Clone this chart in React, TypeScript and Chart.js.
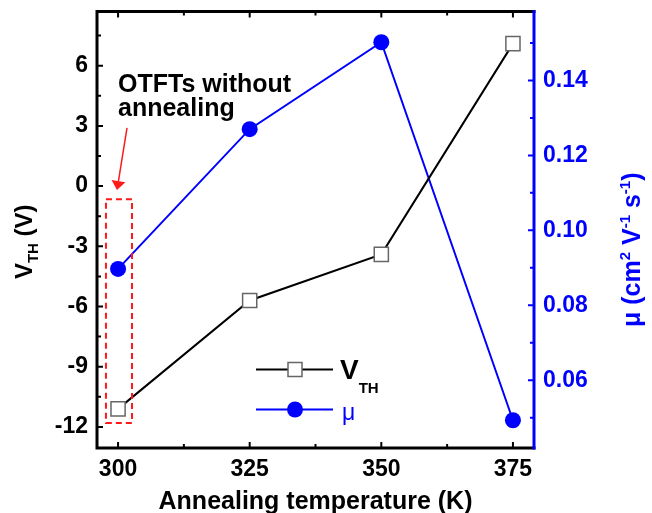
import React, { useEffect, useRef } from 'react';
import { Chart, registerables } from 'chart.js';

Chart.register(...registerables);

// ---- data ----
const temperatures = [300, 325, 350, 375];
const vthValues = [-11.1, -5.7, -3.4, 7.1];
const muValues = [0.0897, 0.127, 0.1502, 0.0493];

// ---- tick labels ----
const xTicks = [300, 325, 350, 375];
const xMinorTicks = [312.5, 337.5, 362.5];
const vthTicks = [-12, -9, -6, -3, 0, 3, 6];
const vthMinorTicks = [-10.5, -7.5, -4.5, -1.5, 1.5, 4.5, 7.5];
const muTicks = [0.06, 0.08, 0.1, 0.12, 0.14];
const muMinorTicks = [0.05, 0.07, 0.09, 0.11, 0.13, 0.15];

const FONT = "'Liberation Sans', Arial, Helvetica, sans-serif";
const BLUE = '#0000ff';
const RED = '#ff1a1a';

type Run = { text: string; size: number; weight?: string; dy?: number };

function runsWidth(ctx: CanvasRenderingContext2D, runs: Run[]) {
  let w = 0;
  for (const r of runs) {
    ctx.font = `${r.weight ?? 'bold'} ${r.size}px ${FONT}`;
    w += ctx.measureText(r.text).width;
  }
  return w;
}

function drawRuns(ctx: CanvasRenderingContext2D, runs: Run[], x: number, y: number) {
  let cx = x;
  ctx.textBaseline = 'alphabetic';
  ctx.textAlign = 'left';
  for (const r of runs) {
    ctx.font = `${r.weight ?? 'bold'} ${r.size}px ${FONT}`;
    ctx.fillText(r.text, cx, y + (r.dy ?? 0));
    cx += ctx.measureText(r.text).width;
  }
}

const decorPlugin = {
  id: 'decor',
  afterDraw(chart: any) {
    const ctx: CanvasRenderingContext2D = chart.ctx;
    const { left, right, top, bottom } = chart.chartArea;
    const xs = chart.scales.x;
    const ys = chart.scales.y;
    const ys1 = chart.scales.y1;
    ctx.save();

    // frame
    ctx.lineCap = 'square';
    ctx.lineWidth = 3;
    ctx.strokeStyle = '#000';
    ctx.beginPath();
    ctx.moveTo(right, top);
    ctx.lineTo(left, top);
    ctx.lineTo(left, bottom);
    ctx.lineTo(right, bottom);
    ctx.stroke();
    ctx.strokeStyle = BLUE;
    ctx.beginPath();
    ctx.moveTo(right, top);
    ctx.lineTo(right, bottom);
    ctx.stroke();

    // inward ticks
    ctx.lineCap = 'butt';
    ctx.lineWidth = 2;
    const major = 6;
    const minor = 4;
    ctx.strokeStyle = '#000';
    ctx.beginPath();
    for (const v of xTicks) {
      const px = xs.getPixelForValue(v);
      ctx.moveTo(px, bottom); ctx.lineTo(px, bottom - major);
      ctx.moveTo(px, top); ctx.lineTo(px, top + major);
    }
    for (const v of xMinorTicks) {
      const px = xs.getPixelForValue(v);
      ctx.moveTo(px, bottom); ctx.lineTo(px, bottom - minor);
      ctx.moveTo(px, top); ctx.lineTo(px, top + minor);
    }
    for (const v of vthTicks) {
      const py = ys.getPixelForValue(v);
      ctx.moveTo(left, py); ctx.lineTo(left + major, py);
    }
    for (const v of vthMinorTicks) {
      const py = ys.getPixelForValue(v);
      ctx.moveTo(left, py); ctx.lineTo(left + minor, py);
    }
    ctx.stroke();
    ctx.strokeStyle = BLUE;
    ctx.beginPath();
    for (const v of muTicks) {
      const py = ys1.getPixelForValue(v);
      ctx.moveTo(right, py); ctx.lineTo(right - major, py);
    }
    for (const v of muMinorTicks) {
      const py = ys1.getPixelForValue(v);
      ctx.moveTo(right, py); ctx.lineTo(right - minor, py);
    }
    ctx.stroke();

    // x axis title
    ctx.fillStyle = '#000';
    const xTitle: Run[] = [{ text: 'Annealing temperature (K)', size: 25 }];
    const xtw = runsWidth(ctx, xTitle);
    drawRuns(ctx, xTitle, (left + right) / 2 - xtw / 2, bottom + 61);

    // left y title
    const lTitle: Run[] = [
      { text: 'V', size: 24 },
      { text: 'TH', size: 15, dy: 6 },
      { text: ' (V)', size: 24 },
    ];
    ctx.save();
    ctx.translate(left - 65, (top + bottom) / 2 + 12);
    ctx.rotate(-Math.PI / 2);
    const lw = runsWidth(ctx, lTitle);
    drawRuns(ctx, lTitle, -lw / 2, 0);
    ctx.restore();

    // right y title
    const rTitle: Run[] = [
      { text: '\u03bc (cm', size: 25 },
      { text: '2', size: 15, dy: -10 },
      { text: ' V', size: 25 },
      { text: '-1', size: 15, dy: -10 },
      { text: ' s', size: 25 },
      { text: '-1', size: 15, dy: -10 },
      { text: ')', size: 25 },
    ];
    ctx.fillStyle = BLUE;
    ctx.save();
    ctx.translate(right + 106, (top + bottom) / 2 + 20);
    ctx.rotate(-Math.PI / 2);
    const rw = runsWidth(ctx, rTitle);
    drawRuns(ctx, rTitle, -rw / 2, 0);
    ctx.restore();

    // annotation text
    ctx.fillStyle = '#000';
    drawRuns(ctx, [{ text: 'OTFTs without', size: 25 }], left + 21, top + 80);
    drawRuns(ctx, [{ text: 'annealing', size: 25 }], left + 21, top + 104);

    // dashed box
    ctx.strokeStyle = RED;
    ctx.lineWidth = 2;
    ctx.setLineDash([6, 4]);
    const bx0 = xs.getPixelForValue(297.7);
    const bx1 = xs.getPixelForValue(302.65);
    const by0 = ys.getPixelForValue(-0.65);
    const by1 = ys.getPixelForValue(-11.8);
    ctx.strokeRect(bx0, by0, bx1 - bx0, by1 - by0);
    ctx.setLineDash([]);

    // arrow
    const ax0 = xs.getPixelForValue(301.7);
    const ay0 = ys.getPixelForValue(2.9);
    const tx = xs.getPixelForValue(299.8);
    const ty = ys.getPixelForValue(-0.2);
    const ang = Math.atan2(ty - ay0, tx - ax0);
    const hl = 9;
    const hw = 7;
    const bxm = tx - hl * Math.cos(ang);
    const bym = ty - hl * Math.sin(ang);
    ctx.lineWidth = 1.5;
    ctx.beginPath();
    ctx.moveTo(ax0, ay0);
    ctx.lineTo(bxm, bym);
    ctx.stroke();
    ctx.fillStyle = RED;
    ctx.beginPath();
    ctx.moveTo(tx, ty);
    ctx.lineTo(bxm + hw * Math.sin(ang), bym - hw * Math.cos(ang));
    ctx.lineTo(bxm - hw * Math.sin(ang), bym + hw * Math.cos(ang));
    ctx.closePath();
    ctx.fill();

    // legend
    const lx0 = left + 159;
    const lx1 = left + 236;
    const lmx = left + 198;
    const ly1 = top + 358;
    const ly2 = top + 398;
    ctx.lineWidth = 2;
    ctx.strokeStyle = '#000';
    ctx.beginPath();
    ctx.moveTo(lx0, ly1); ctx.lineTo(lx1, ly1);
    ctx.stroke();
    ctx.fillStyle = '#fff';
    ctx.fillRect(lmx - 7, ly1 - 7, 14, 14);
    ctx.strokeStyle = '#666';
    ctx.lineWidth = 1.5;
    ctx.strokeRect(lmx - 7, ly1 - 7, 14, 14);
    ctx.strokeStyle = BLUE;
    ctx.lineWidth = 2;
    ctx.beginPath();
    ctx.moveTo(lx0, ly2); ctx.lineTo(lx1, ly2);
    ctx.stroke();
    ctx.fillStyle = BLUE;
    ctx.beginPath();
    ctx.arc(lmx, ly2, 8, 0, Math.PI * 2);
    ctx.fill();

    ctx.fillStyle = '#000';
    drawRuns(ctx, [
      { text: 'V', size: 28 },
      { text: 'TH', size: 15, dy: 14 },
    ], left + 243, ly1 + 9);
    ctx.fillStyle = BLUE;
    drawRuns(ctx, [{ text: '\u03bc', size: 23, weight: 'normal' }], left + 245, ly2 + 10);

    ctx.restore();
  },
};

export default function App() {
  const canvasRef = useRef<HTMLCanvasElement | null>(null);

  useEffect(() => {
    document.body.style.margin = '0';
    const canvas = canvasRef.current;
    if (!canvas) return;
    const tickFont = { family: FONT, size: 23, weight: 'bold' as const };
    const chart = new Chart(canvas, {
      type: 'line',
      data: {
        datasets: [
          {
            label: 'VTH',
            data: temperatures.map((t, i) => ({ x: t, y: vthValues[i] })),
            yAxisID: 'y',
            borderColor: '#000',
            borderWidth: 2,
            pointStyle: 'rect',
            pointRadius: 10,
            pointBackgroundColor: '#fff',
            pointBorderColor: '#666',
            pointBorderWidth: 1.5,
            tension: 0,
          },
          {
            label: '\u03bc',
            data: temperatures.map((t, i) => ({ x: t, y: muValues[i] })),
            yAxisID: 'y1',
            borderColor: BLUE,
            borderWidth: 2,
            pointStyle: 'circle',
            pointRadius: 8,
            pointBackgroundColor: BLUE,
            pointBorderColor: BLUE,
            pointBorderWidth: 0,
            tension: 0,
          },
        ],
      },
      options: {
        responsive: false,
        animation: false,
        devicePixelRatio: 1,
        layout: { padding: { top: 11, left: 0, right: 0, bottom: 0 } },
        plugins: {
          legend: { display: false },
          tooltip: { enabled: false },
        },
        scales: {
          x: {
            type: 'linear',
            min: 296,
            max: 379,
            afterBuildTicks: (s: any) => { s.ticks = xTicks.map((v) => ({ value: v })); },
            afterFit: (s: any) => { s.height = 65; s.paddingLeft = 0; s.paddingRight = 0; },
            ticks: {
              font: tickFont,
              color: '#000',
              padding: 0,
              maxRotation: 0,
            },
            grid: { display: false },
            border: { display: false },
          },
          y: {
            type: 'linear',
            position: 'left',
            min: -13.05,
            max: 8.7,
            afterBuildTicks: (s: any) => { s.ticks = vthTicks.map((v) => ({ value: v })); },
            afterFit: (s: any) => { s.width = 97; s.paddingTop = 0; s.paddingBottom = 0; },
            ticks: {
              font: tickFont,
              color: '#000',
              padding: 1,
            },
            grid: { display: false },
            border: { display: false },
          },
          y1: {
            type: 'linear',
            position: 'right',
            min: 0.0419,
            max: 0.1584,
            afterBuildTicks: (s: any) => { s.ticks = muTicks.map((v) => ({ value: v })); },
            afterFit: (s: any) => { s.width = 118; s.paddingTop = 0; s.paddingBottom = 0; },
            ticks: {
              font: tickFont,
              color: BLUE,
              padding: 1,
              callback: (v: any) => Number(v).toFixed(2),
            },
            grid: { display: false },
            border: { display: false },
          },
        },
      },
      plugins: [decorPlugin],
    });
    return () => chart.destroy();
  }, []);

  return (
    <div style={{ width: 652, height: 513 }}>
      <canvas ref={canvasRef} width={652} height={513} style={{ display: 'block' }} />
    </div>
  );
}
